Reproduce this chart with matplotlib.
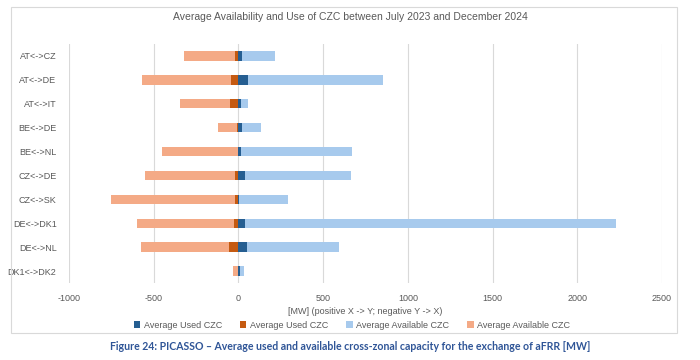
import matplotlib
matplotlib.use("Agg")
import matplotlib.pyplot as plt
from matplotlib.patches import Rectangle

categories = ["AT<->CZ", "AT<->DE", "AT<->IT", "BE<->DE", "BE<->NL",
              "CZ<->DE", "CZ<->SK", "DE<->DK1", "DE<->NL", "DK1<->DK2"]
used_pos = [22, 59, 14, 20, 14, 37, 6, 37, 51, 10]
used_neg = [-18, -43, -48, -8, -5, -22, -20, -24, -55, -5]
avail_pos = [216, 855, 55, 133, 669, 663, 290, 2229, 596, 35]
avail_neg = [-323, -569, -345, -121, -454, -549, -750, -600, -577, -33]
xticks = [-1000, -500, 0, 500, 1000, 1500, 2000, 2500]

FONT = ["Liberation Sans", "DejaVu Sans"]
plt.rcParams["font.family"] = FONT

c_dblue = "#255E91"
c_dorange = "#C55A11"
c_lblue = "#A7CAED"
c_lorange = "#F4AA86"
gray = "#595959"

fig = plt.figure(figsize=(7, 3.6), dpi=100)
ax = fig.add_axes([69/700, 1-283/360, (662-69)/700, (283-44)/360])

y = list(range(len(categories)))
h = 0.39
ax.barh(y, avail_pos, height=h, color=c_lblue, zorder=2, label="Average Available CZC")
ax.barh(y, avail_neg, height=h, color=c_lorange, zorder=2, label="Average Available CZC")
ax.barh(y, used_pos, height=h, color=c_dblue, zorder=3, label="Average Used CZC")
ax.barh(y, used_neg, height=h, color=c_dorange, zorder=3, label="Average Used CZC")

ax.set_xlim(-1000, 2500)
ax.set_ylim(len(categories) - 0.5, -0.5)
ax.set_yticks(y)
ax.set_yticklabels(categories)
ax.set_xticks(xticks)
ax.set_xticklabels([str(v) for v in xticks])
ax.tick_params(axis="both", length=0, labelsize=6.5, labelcolor=gray)
ax.tick_params(axis="y", pad=9)
ax.tick_params(axis="x", pad=8)
for s in ax.spines.values():
    s.set_visible(False)
ax.grid(axis="x", color="#D9D9D9", linewidth=0.8, zorder=0)
ax.set_axisbelow(True)

ax.set_xlabel("[MW] (positive X -> Y; negative Y -> X)", fontsize=6.5, color=gray, labelpad=3)

fig.text(0.5, 1-17/360, "Average Availability and Use of CZC between July 2023 and December 2024",
         ha="center", va="center", fontsize=7.5, color=gray)

handles, labels = ax.get_legend_handles_labels()
order = [2, 3, 0, 1]
leg = fig.legend([handles[i] for i in order], [labels[i] for i in order],
                 loc="center", bbox_to_anchor=(352/700, 1-325/360), ncol=4,
                 frameon=False, fontsize=6.5, handlelength=0.7, handleheight=0.7,
                 handletextpad=0.4, columnspacing=2.0, labelcolor=gray)

fig.patches.append(Rectangle((11/700, 1-333/360), (677-11)/700, (333-7)/360,
                             transform=fig.transFigure, fill=False,
                             edgecolor="#D9D9D9", linewidth=0.8))

fig.text(0.5, 1-347/360,
         "Figure 24: PICASSO \u2013 Average used and available cross-zonal capacity for the exchange of aFRR [MW]",
         ha="center", va="center", fontsize=7.6, fontweight="bold", color="#2F5597",
         family=["Lato", "DejaVu Sans"])

fig.savefig("out.png", dpi=100)
